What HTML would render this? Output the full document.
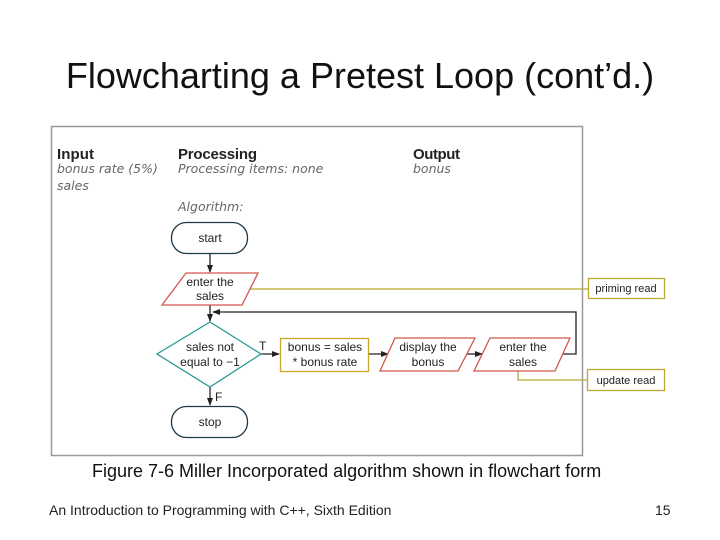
<!DOCTYPE html>
<html><head><style>
body{margin:0;width:720px;height:540px;background:#fff;overflow:hidden;position:relative;font-family:"Liberation Sans",sans-serif}
.t{position:absolute;white-space:nowrap}
</style></head><body>
<div class="t" style="left:0;width:720px;text-align:center;top:55px;font-size:36px;color:#111">Flowcharting a Pretest Loop (cont’d.)</div>
<svg width="720" height="540" style="position:absolute;left:0;top:0" font-family="Liberation Sans, sans-serif">
<defs><marker id="a" markerWidth="8" markerHeight="8" refX="7" refY="4" orient="auto" markerUnits="userSpaceOnUse"><path d="M0,1 L8,4 L0,7 Z" fill="#222"/></marker></defs>
<rect x="51.5" y="126.5" width="531" height="329" fill="#fff" stroke="#999" stroke-width="1.5"/>
<g font-weight="bold" font-size="15" fill="#222" textLength="1"><text x="57" y="159" textLength="37">Input</text><text x="178" y="159" textLength="79">Processing</text><text x="413" y="159" textLength="47">Output</text></g>
<g font-family="DejaVu Sans, sans-serif" font-style="italic" font-size="12.5" fill="#666"><text x="57" y="173">bonus rate (5%)</text><text x="57" y="190">sales</text><text x="178" y="173">Processing items:  none</text><text x="413" y="173">bonus</text><text x="178" y="211">Algorithm:</text></g>
<g stroke="#222" stroke-width="1.3" fill="none">
<line x1="210" y1="253" x2="210" y2="272" marker-end="url(#a)"/>
<line x1="210" y1="305" x2="210" y2="321" marker-end="url(#a)"/>
<polyline points="555,354 576,354 576,312 213,312" marker-end="url(#a)"/>
<line x1="261" y1="354" x2="279" y2="354" marker-end="url(#a)"/>
<line x1="369" y1="354" x2="388" y2="354" marker-end="url(#a)"/>
<line x1="466" y1="354" x2="482" y2="354" marker-end="url(#a)"/>
<line x1="210" y1="387" x2="210" y2="405" marker-end="url(#a)"/>
</g>
<g stroke="#b8a830" stroke-width="1.3" fill="none">
<line x1="247" y1="289" x2="588" y2="289"/>
<polyline points="518,371 518,380 587,380"/>
</g>
<rect x="588.5" y="278.5" width="76" height="20" fill="#fff" stroke="#b8a830" stroke-width="1.3"/>
<rect x="587.5" y="369.5" width="77" height="21" fill="#fff" stroke="#b8a830" stroke-width="1.3"/>
<rect x="171.5" y="222.5" width="76" height="31" rx="15" fill="#fff" stroke="#1d3a4a" stroke-width="1.3"/>
<rect x="171.5" y="406.5" width="76" height="31" rx="15" fill="#fff" stroke="#1d3a4a" stroke-width="1.3"/>
<polygon points="186,273 258,273 242,305 162,305" fill="#fff" stroke="#d0584a" stroke-width="1.3"/>
<polygon points="210,322 261,354 210,387 157,354" fill="#fff" stroke="#2a9a95" stroke-width="1.3"/>
<rect x="280.5" y="338.5" width="88" height="33" fill="#fff" stroke="#c9a829" stroke-width="1.3"/>
<polygon points="395,338 475,338 458,371 380,371" fill="#fff" stroke="#d0584a" stroke-width="1.3"/>
<polygon points="490,338 570,338 555,371 474,371" fill="#fff" stroke="#d0584a" stroke-width="1.3"/>
<g font-size="12" fill="#222" text-anchor="middle">
<text x="210" y="242">start</text><text x="210" y="426">stop</text>
<text x="210" y="286">enter the</text><text x="210" y="300">sales</text>
<text x="210" y="351">sales not</text><text x="210" y="366">equal to −1</text>
<text x="325" y="351">bonus = sales</text><text x="325" y="366">* bonus rate</text>
<text x="428" y="351">display the</text><text x="428" y="366">bonus</text>
<text x="523" y="351">enter the</text><text x="523" y="366">sales</text>
<text x="626" y="292" font-size="11">priming read</text><text x="626" y="384" font-size="11">update read</text>
</g>
<text x="259" y="350" font-size="12" fill="#222">T</text>
<text x="215" y="401" font-size="12" fill="#222">F</text>
</svg>
<div class="t" style="left:92px;top:461px;font-size:18px;color:#111">Figure 7-6 Miller Incorporated algorithm shown in flowchart form</div>
<div class="t" style="left:49px;top:502px;font-size:14px;color:#222">An Introduction to Programming with C++, Sixth Edition</div>
<div class="t" style="left:655px;top:502px;font-size:14px;color:#222">15</div>
</body></html>
